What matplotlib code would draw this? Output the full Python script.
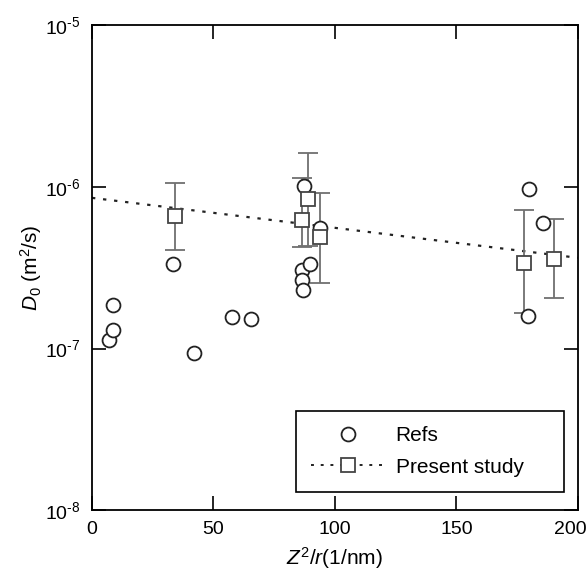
#!/usr/bin/env python3
"""Diffusion coefficient D0 against Z^2/r: literature values and present study."""
import os

os.environ.setdefault("MPLBACKEND", "Agg")
import matplotlib.pyplot as plt
from matplotlib.lines import Line2D
from matplotlib.ticker import NullLocator, FuncFormatter
from matplotlib.transforms import ScaledTranslation
import numpy as np

# literature values (open circles)
refs_x = [7.0, 8.5, 8.5, 33.3, 41.8, 57.6, 65.3, 87.4, 86.3, 86.3, 86.8, 89.7,
          93.8, 180.0, 185.7, 179.6]
refs_y = [1.13e-7, 1.31e-7, 1.87e-7, 3.33e-7, 9.4e-8, 1.56e-7, 1.52e-7, 1.01e-6,
          3.05e-7, 2.65e-7, 2.30e-7, 3.33e-7, 5.53e-7, 9.64e-7, 5.94e-7, 1.58e-7]

# present study (open squares with error bars)
present_x = [34.0, 86.3, 89.0, 93.8, 177.8, 190.3]
present_y = [6.56e-7, 6.22e-7, 8.47e-7, 4.91e-7, 3.36e-7, 3.57e-7]
present_lo = [4.04e-7, 4.26e-7, 4.30e-7, 2.53e-7, 1.65e-7, 2.04e-7]
present_hi = [1.06e-6, 1.14e-6, 1.62e-6, 9.22e-7, 7.18e-7, 6.37e-7]

# exponential fit through the present data (straight on log axis)
fit_x = [0, 200]
fit_y = [8.55e-7, 3.64e-7]

plt.rcParams["font.family"] = ["Liberation Sans", "DejaVu Sans"]
plt.rcParams["mathtext.fontset"] = "custom"
plt.rcParams["mathtext.rm"] = "Liberation Sans"
plt.rcParams["mathtext.it"] = "Liberation Sans:italic"

fig = plt.figure(figsize=(5.86, 5.72), dpi=100)
ax = fig.add_axes([0.157, 0.108, 0.829, 0.848])

ax.plot(fit_x, fit_y, color="#222222", lw=1.6, ls=(0, (1.5, 3.5)), zorder=2)

y = np.array(present_y)
yerr = [y - np.array(present_lo), np.array(present_hi) - y]
ax.errorbar(present_x, present_y, yerr=yerr, fmt="none", ecolor="#707070",
            elinewidth=1.3, capsize=7, capthick=1.3, zorder=3)
ax.plot(refs_x, refs_y, "o", ms=10, mfc="white", mec="#222222", mew=1.3, zorder=4)
ax.plot(present_x, present_y, "s", ms=10, mfc="white", mec="#444444", mew=1.3, zorder=5)

ax.set_yscale("log")
ax.set_xlim(0, 200)
ax.set_ylim(1e-8, 1e-5)
ax.set_xticks([0, 50, 100, 150, 200])
ax.yaxis.set_minor_locator(NullLocator())
ax.yaxis.set_major_formatter(FuncFormatter(
    lambda v, pos: r"$10^{\text{-}%d}$" % round(-np.log10(v))))
ax.tick_params(which="major", direction="in", length=10, width=1.2,
               top=True, right=True, labelsize=14, pad=8)
for s in ax.spines.values():
    s.set_linewidth(1.3)

ax.set_xlabel("$Z^2$/$r$(1/nm)", fontsize=15, labelpad=5)
ax.set_ylabel("$D_0$ (m$^2$/s)", fontsize=15, labelpad=1)

handles = [
    Line2D([], [], ls="none", marker="o", ms=10, mfc="white", mec="#222222", mew=1.3),
    Line2D([], [], color="#222222", lw=1.4, ls=(0, (1.5, 3.5)), marker="s", ms=10,
           mfc="white", mec="#444444", mew=1.3),
]
ax.legend(handles, ["Refs", "Present study"], loc="lower left",
          bbox_to_anchor=(0.419, 0.037, 0.552, 0.171), mode="expand", borderaxespad=0,
          fontsize=15, frameon=True, fancybox=False, edgecolor="black", framealpha=1,
          handlelength=3.5, handletextpad=0.55, labelspacing=0.6, borderpad=0.75)
ax.get_legend().get_frame().set_linewidth(1.2)

fig.canvas.draw()
last = ax.get_xticklabels()[-1]
last.set_transform(last.get_transform() + ScaledTranslation(-0.07, 0, fig.dpi_scale_trans))

fig.savefig("out.png", dpi=100)
